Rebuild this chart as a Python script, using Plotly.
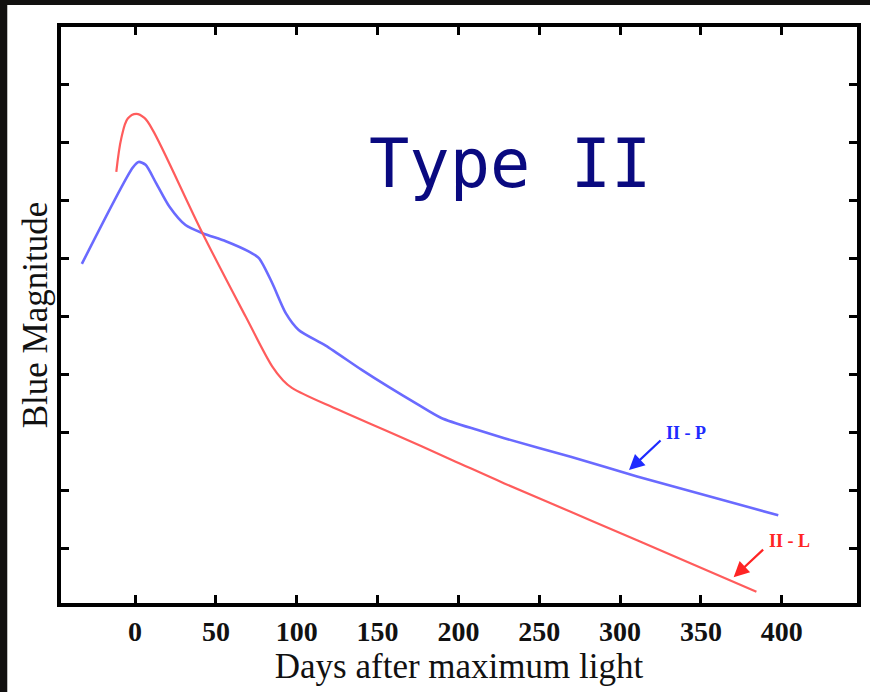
import plotly.graph_objects as go

# Type II supernova light curves: blue magnitude vs days after maximum light
days_p = [-32.9, -1.5, 2.2, 6.5, 13.1, 21.2, 31.2, 41.8, 56.1, 70.5, 76.6, 84.8, 93.2,
          101.2, 117.9, 140.2, 156.6, 175.1, 189.4, 212.0, 228.4, 269.4, 310.5, 397.8]
mag_p = [4.09, 2.43, 2.33, 2.38, 2.70, 3.10, 3.42, 3.56, 3.70, 3.88, 3.99, 4.42, 4.94,
         5.23, 5.50, 5.92, 6.21, 6.52, 6.75, 6.96, 7.10, 7.42, 7.76, 8.43]

days_l = [-11.6, -8.5, -4.5, 0.7, 5.8, 10.95, 41.7, 68.4, 84.8, 91.2, 97.0, 125.8,
          158.6, 195.6, 228.4, 269.4, 310.5, 384.3]
mag_l = [2.50, 1.92, 1.58, 1.50, 1.57, 1.78, 3.56, 5.00, 5.86, 6.09, 6.23, 6.61,
         7.01, 7.47, 7.88, 8.37, 8.86, 9.75]

x_ticks = [0, 50, 100, 150, 200, 250, 300, 350, 400]
y_ticks = [1, 2, 3, 4, 5, 6, 7, 8, 9]

# arrow targets for the class labels
arrow_p = (305.5, 7.65)
arrow_l = (370.2, 9.50)

serif = "Liberation Serif"

fig = go.Figure()
fig.add_trace(go.Scatter(x=days_p, y=mag_p, mode="lines", name="II - P",
                         line=dict(color="#6a6aff", width=2.6, shape="spline", smoothing=0.7)))
fig.add_trace(go.Scatter(x=days_l, y=mag_l, mode="lines", name="II - L",
                         line=dict(color="#ff5c5c", width=2.2, shape="spline", smoothing=1.0)))

# white card behind the chart on the dark page
fig.add_shape(type="rect", xref="paper", yref="paper", x0=-0.0675, x1=1.02, y0=-0.16, y1=1.038,
              fillcolor="white", line=dict(width=0), layer="below")

fig.add_annotation(x=arrow_p[0], y=arrow_p[1], ax=33, ay=-31, showarrow=True, text="",
                   arrowhead=2, arrowsize=1.4, arrowwidth=2.2, arrowcolor="#1f2bff")
fig.add_annotation(x=arrow_p[0], y=arrow_p[1], xshift=57, yshift=37, showarrow=False,
                   text="II - P", font=dict(family=serif, size=18, color="#1f2bff", weight="bold"))
fig.add_annotation(x=arrow_l[0], y=arrow_l[1], ax=31, ay=-29, showarrow=True, text="",
                   arrowhead=2, arrowsize=1.4, arrowwidth=2.2, arrowcolor="#ff2424")
fig.add_annotation(x=arrow_l[0], y=arrow_l[1], xshift=56, yshift=36, showarrow=False,
                   text="II - L", font=dict(family=serif, size=18, color="#ff2424", weight="bold"))

fig.add_annotation(x=232, y=2.36, showarrow=False, text="Type II",
                   font=dict(family="DejaVu Sans Mono", size=67, color="#0a0a80"))

fig.update_layout(
    width=870, height=692,
    margin=dict(l=61, r=9, t=27, b=89),
    paper_bgcolor="#121110",
    plot_bgcolor="white",
    showlegend=False,
    xaxis=dict(range=[-45.8, 446.5], tickvals=x_ticks, ticktext=[str(v) for v in x_ticks],
               ticks="inside", ticklen=8, tickwidth=2.5, tickcolor="black",
               showline=True, linewidth=4, linecolor="black", mirror="ticks",
               showgrid=False, zeroline=False,
               tickfont=dict(family=serif, size=28, color="#111", weight="bold"),
               title=dict(text="Days after maximum light", standoff=7,
                          font=dict(family=serif, size=35, color="#111"))),
    yaxis=dict(range=[9.945, 0], tickvals=y_ticks, showticklabels=False,
               ticks="inside", ticklen=8, tickwidth=2.5, tickcolor="black",
               showline=True, linewidth=4, linecolor="black", mirror="ticks",
               showgrid=False, zeroline=False,
               title=dict(text="Blue Magnitude", standoff=0,
                          font=dict(family=serif, size=35, color="#111"))),
)

fig.write_html("out.html")
